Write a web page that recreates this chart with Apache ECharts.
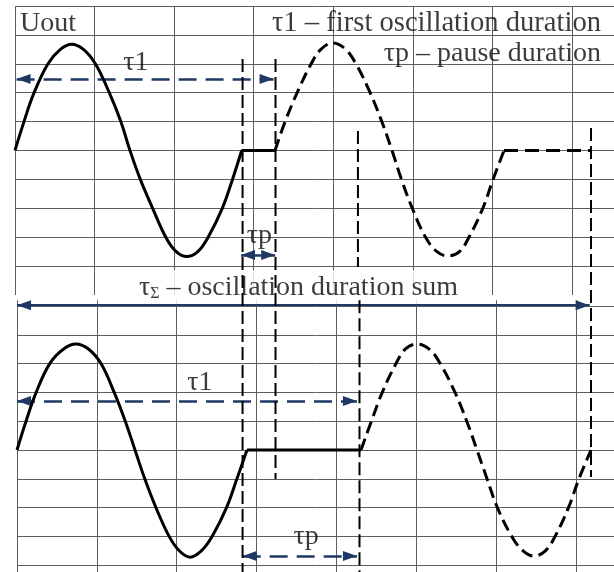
<!DOCTYPE html>
<html><head><meta charset="utf-8">
<script src="https://cdn.jsdelivr.net/npm/echarts@6/dist/echarts.min.js"></script>
<style>html,body{margin:0;padding:0;background:#fff}#c{width:614px;height:572px}</style>
</head><body><div id="c"></div>
<script>
// Units: x = horizontal grid divisions, y = vertical grid divisions (0 = zero level)
// ---- top panel ----
const topWave1 = [[0,0],[0.113,1],[0.24,2],[0.415,3],[0.57,3.5],[0.713,3.68],[0.86,3.5],[1.01,3],[1.185,2],[1.33,1],[1.445,0],[1.575,-1],[1.73,-2],[1.895,-3],[2.026,-3.5],[2.158,-3.67],[2.298,-3.5],[2.427,-3],[2.605,-2],[2.733,-1],[2.849,0]];
const topPause1 = [[2.849,0],[3.268,0]];
const topWave2 = [[3.268,0],[3.395,1],[3.546,2],[3.722,3],[3.844,3.5],[3.996,3.72],[4.155,3.5],[4.285,3],[4.463,2],[4.61,1],[4.738,0],[4.857,-1],[4.993,-2],[5.16,-3],[5.303,-3.5],[5.442,-3.65],[5.586,-3.5],[5.705,-3],[5.879,-2],[6.008,-1],[6.146,0]];
const topPause2 = [[6.146,0],[7.239,0]];
// ---- bottom panel ----
const botWave1 = [[0,0],[0.113,1],[0.24,2],[0.41,3],[0.58,3.5],[0.739,3.68],[0.898,3.5],[1.052,3],[1.217,2],[1.356,1],[1.478,0],[1.60,-1],[1.74,-2],[1.905,-3],[2.032,-3.5],[2.166,-3.72],[2.308,-3.5],[2.443,-3],[2.624,-2],[2.754,-1],[2.88,0]];
const botPause1 = [[2.88,0],[4.308,0]];
const botWave2 = [[4.308,0],[4.438,1],[4.574,2],[4.746,3],[4.862,3.5],[5.009,3.68],[5.162,3.5],[5.3,3],[5.485,2],[5.632,1],[5.76,0],[5.886,-1],[6.016,-2],[6.196,-3],[6.338,-3.5],[6.474,-3.68],[6.616,-3.5],[6.738,-3],[6.906,-2],[7.037,-1],[7.188,0]];
// duration markers: [xStart, xEnd, y]
const topTau1 = [0.02, 3.25, 2.474];
const topTauP = [2.84, 3.27, -3.616];
const botTau1 = [0.0, 4.257, 1.70];
const botTauP = [2.826, 4.257, -3.68];
const botTauSum = [0.0, 7.171, 5.03];
// boundary dashed verticals: [x, yFrom, yTo]
const topVLines = [[2.86, 3.17, -14.6], [3.274, 3.17, -11.37], [4.31, 0.675, -4.03], [7.239, 0.78, -11.3]];
const botVLines = [[4.289, 5.2, -4.24]];
// texts: [x, y, text, align, fontSize]
const topTexts = [
  [0.063, 4.38, 'Uout', 'left', 28],
  [7.365, 4.38, 'τ1 – first oscillation duration', 'right', 28.6],
  [7.365, 3.34, 'τp – pause duration', 'right', 28],
  [1.52, 3.03, 'τ1', 'center', 28],
  [3.07, -2.96, 'τp', 'center', 28]
];
const sumText = [3.563, -4.72];
const botTexts = [
  [2.29, 2.33, 'τ1', 'center', 28],
  [3.62, -3.02, 'τp', 'center', 28]
];

const NAVY = '#1f3864';
const GRIDC = '#5e5e5e';
const FONT = '"Liberation Serif","Times New Roman",serif';
const FS = 28;

function xAxis(gi, max) {
  return { type:'value', gridIndex:gi, min:0, max:max, interval:1,
    axisLine:{show:false}, axisTick:{show:false}, axisLabel:{show:false},
    splitLine:{show:true, showMinLine:true, showMaxLine:false, lineStyle:{color:GRIDC, width:1}} };
}
function yAxis(gi, min, max, showMin, showMax) {
  return { type:'value', gridIndex:gi, min:min, max:max, interval:1,
    axisLine:{show:false}, axisTick:{show:false}, axisLabel:{show:false},
    splitLine:{show:true, showMinLine:showMin, showMaxLine:showMax, lineStyle:{color:GRIDC, width:1}} };
}
function wave(gi, data, dashed) {
  return { type:'line', xAxisIndex:gi, yAxisIndex:gi, data:data, symbol:'none', smooth:0.4,
    lineStyle:{color:'#000', width:3, type: dashed ? [12,6] : 'solid', cap:'butt'}, z:5, silent:true };
}
function straight(gi, data, dashed) {
  return { type:'line', xAxisIndex:gi, yAxisIndex:gi, data:data, symbol:'none', smooth:false,
    lineStyle:{color:'#000', width:3, type: dashed ? [14,7] : 'solid', cap:'butt'}, z:5, silent:true };
}
function vline(gi, v) {
  return { type:'line', xAxisIndex:gi, yAxisIndex:gi, clip:false, data:[[v[0], v[1]],[v[0], v[2]]], symbol:'none',
    lineStyle:{color:'#000', width:2, type:[13,5], cap:'butt'}, z:6, silent:true };
}
function arrowItem(a, dashed, w) {
  return [{coord:[a[0], a[2]], lineStyle:{color:NAVY, width:w, type: dashed ? [18,9] : 'solid'}},
          {coord:[a[1], a[2]]}];
}
function arrows(gi, items) {
  return { type:'line', xAxisIndex:gi, yAxisIndex:gi, data:[], symbol:'none', z:7, silent:true,
    markLine:{ silent:true, animation:false, symbol:['triangle','triangle'], symbolSize:[10,14],
      symbolOffset:[[0,'50%'],[0,'50%']], label:{show:false}, emphasis:{disabled:true}, data:items } };
}
function texts(gi, list) {
  return { type:'scatter', xAxisIndex:gi, yAxisIndex:gi, clip:false, symbolSize:1, itemStyle:{color:'rgba(0,0,0,0)'}, z:4, silent:true,
    label:{show:true, position:'inside', color:'#0a0a0a', fontFamily:FONT, fontSize:FS, verticalAlign:'middle'},
    data: list.map(t => ({value:[t[0], t[1]], label:{formatter:t[2], align:t[3], fontSize:t[4]}})) };
}

const option = {
  animation:false,
  backgroundColor:'#fff',
  grid:[
    {left:15, right:0, top:6, height:289, outerBoundsMode:'none', containLabel:false},
    {left:17, right:0, top:300.24, height:293.76, outerBoundsMode:'none', containLabel:false}
  ],
  xAxis:[xAxis(0, 7.528), xAxis(1, 7.476)],
  yAxis:[yAxis(0, -5, 5, false, true), yAxis(1, -5, 5.2, false, false)],
  series:[
    wave(0, topWave1, false), straight(0, topPause1, false),
    wave(0, topWave2, true), straight(0, topPause2, true),
    wave(1, botWave1, false), straight(1, botPause1, false),
    wave(1, botWave2, true),
    ...topVLines.map(v => vline(0, v)),
    ...botVLines.map(v => vline(1, v)),
    arrows(0, [arrowItem(topTau1, true, 2.5), arrowItem(topTauP, false, 2.5)]),
    arrows(1, [arrowItem(botTau1, true, 2.5), arrowItem(botTauP, true, 2.5), arrowItem(botTauSum, false, 2)]),
    texts(0, topTexts),
    texts(1, botTexts),
    { type:'scatter', xAxisIndex:0, yAxisIndex:0, clip:false, symbolSize:1, itemStyle:{color:'rgba(0,0,0,0)'}, z:3, silent:true,
      data:[{value:sumText}],
      label:{show:true, position:'inside', align:'center', verticalAlign:'middle', backgroundColor:'#fff', padding:[4,3,2,3],
        formatter:'{a|τ}{s|Σ}{a| – oscillation duration sum}',
        rich:{ a:{fontFamily:FONT, fontSize:FS, color:'#0a0a0a'}, s:{fontFamily:FONT, fontSize:16, color:'#0a0a0a', verticalAlign:'bottom'} } } }
  ]
};
const chart = echarts.init(document.getElementById('c'), null, {renderer:'canvas'});
chart.setOption(option);
</script></body></html>
